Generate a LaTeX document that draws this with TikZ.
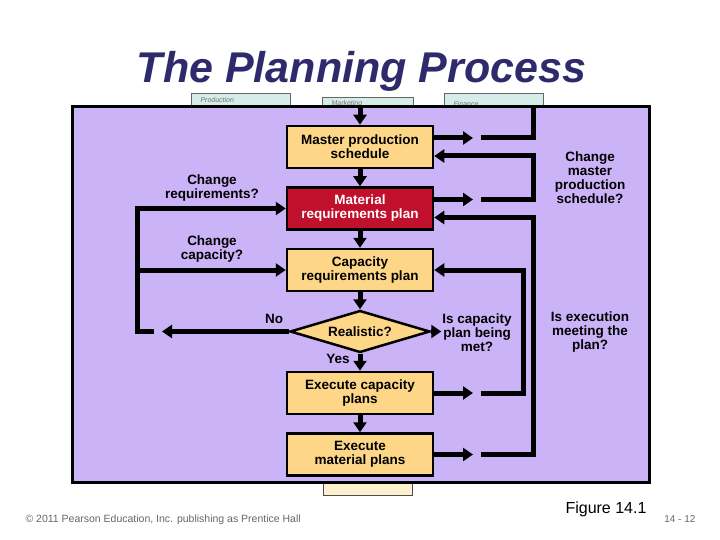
\documentclass[tikz,border=0pt]{standalone}
\usepackage{fontspec}
\setmainfont{Liberation Sans}
\usetikzlibrary{arrows.meta,positioning,shapes.geometric}
\definecolor{panelfill}{HTML}{CAB4F7}
\definecolor{boxfill}{HTML}{FDD687}
\definecolor{mrpfill}{HTML}{C1102B}
\definecolor{titleblue}{HTML}{2F2A6B}
\definecolor{deptfill}{HTML}{D5EDE8}

\begin{document}
\begin{tikzpicture}[x=1pt,y=-1pt,node distance=17pt,>={Triangle[length=10pt,width=13pt]},
  every node/.style={font=\fontsize{13.5}{14}\selectfont\bfseries},
  box/.style={draw,line width=2.5pt,fill=boxfill,align=center,minimum width=146pt,minimum height=42pt,inner sep=2pt},
  decision/.style={diamond,draw,line width=2.5pt,fill=boxfill,aspect=3.3,minimum width=140pt,minimum height=42pt,inner sep=0pt},
  flow/.style={->,line width=5pt},
  link/.style={line width=5pt},
  dept/.style={draw=black!60,line width=0.8pt,fill=deptfill},
  deptlabel/.style={anchor=west,text=black!55,font=\fontsize{7}{8}\selectfont\itshape},
  question/.style={align=center}]
\useasboundingbox (0,0) rectangle (720,540);

% title
\node[anchor=base,text=titleblue,font=\fontsize{43}{43}\selectfont\bfseries\itshape] (title) at (361.5,83) {The Planning Process};

% boxes behind the panel
\draw[dept] (191,93) rectangle (290,118);
\draw[dept] (322,97) rectangle (413,118);
\draw[dept] (444,93) rectangle (543,118);
\node[deptlabel] (prod) at (197,100) {Production};
\node[deptlabel] (mkt) at (328,104) {Marketing};
\node[deptlabel] (fin) at (450,104) {Finance};
\draw[draw=black!70,line width=0.8pt,fill=boxfill!40] (323,470) rectangle (412,495);

% panel
\draw[line width=3pt,fill=panelfill] (72,107) rectangle (649,482);

% columns for the feedback lines
\coordinate (top) at (360,107);
\coordinate (finline) at (533,107);
\coordinate (tipcol) at (473,0);
\coordinate (gapcol) at (481,0);
\coordinate (outcol) at (533,0);
\coordinate (incol) at (523,0);
\coordinate (leftcol) at (137,0);
\coordinate (notip) at (162,0);
\coordinate (nogap) at (154,0);

% main chain
\node[box] (mps) at (360,147) {Master production\\schedule};
\node[box,fill=mrpfill,text=white,below=of mps] (mrp) {Material\\requirements plan};
\node[box,below=of mrp] (crp) {Capacity\\requirements plan};
\node[decision,below=of crp] (real) {Realistic?};
\node[box,below=of real] (ecap) {Execute capacity\\plans};
\node[box,below=of ecap] (emat) {Execute\\material plans};

\draw[flow] (top) -- (mps);
\draw[flow] (mps) -- (mrp);
\draw[flow] (mrp) -- (crp);
\draw[flow] (crp) -- (real);
\draw[flow] (real) -- (ecap);
\draw[flow] (ecap) -- (emat);
\draw[flow] (real.east) -- ([xshift=10pt]real.east);

% right side loops
\draw[flow] ([yshift=9pt]mps.east) -- ([yshift=9pt]mps.east -| tipcol);
\draw[link] ([yshift=9pt]mps.east -| gapcol) -| (finline);
\draw[flow] ([yshift=9pt]mrp.east) -- ([yshift=9pt]mrp.east -| tipcol);
\draw[flow] ([yshift=9pt]mrp.east -| gapcol) -| ([yshift=-9pt]mps.east -| outcol) -- ([yshift=-9pt]mps.east);
\draw[flow] (ecap.east) -- (ecap.east -| tipcol);
\draw[flow] (ecap.east -| gapcol) -| (crp.east -| incol) -- (crp.east);
\draw[flow] (emat.east) -- (emat.east -| tipcol);
\draw[flow] (emat.east -| gapcol) -| ([yshift=-9pt]mrp.east -| outcol) -- ([yshift=-9pt]mrp.east);

% left side loop
\draw[flow] (real.west) -- (real.west -| notip);
\draw[flow] (real.west -| nogap) -| (mrp.west -| leftcol) -- (mrp.west);
\draw[flow] (crp.west -| leftcol) -- (crp.west);

% labels
\node[question] (chreq) at (212,188.5) {Change\\requirements?};
\node[question] (chcap) at (212,249.5) {Change\\capacity?};
\node (no) at (274,319) {No};
\node (yes) at (338,359) {Yes};
\node[question] (capmet) at (477,332.5) {Is capacity\\plan being\\met?};
\node[question] (exmeet) at (590,332.5) {Is execution\\meeting the\\plan?};
\node[question] (chmps) at (590,177.5) {Change\\master\\production\\schedule?};

% footer
\node[anchor=base west,text=black!60,font=\fontsize{10.5}{12}\selectfont] (copy) at (22,522) {© 2011 Pearson Education, Inc. publishing as Prentice Hall};
\node[anchor=base,font=\fontsize{16}{18}\selectfont] (fig) at (606,513) {Figure 14.1};
\node[anchor=base east,text=black!60,font=\fontsize{10}{12}\selectfont] (page) at (699,522) {14 - 12};
\end{tikzpicture}
\end{document}
